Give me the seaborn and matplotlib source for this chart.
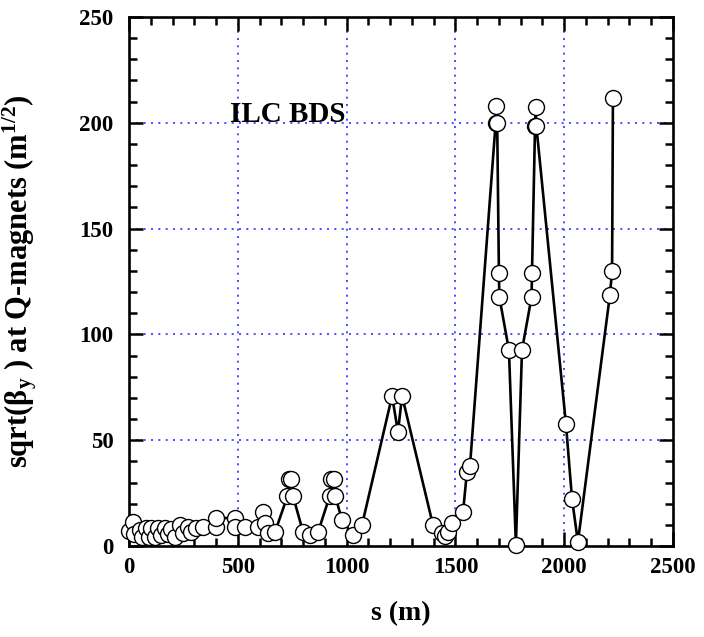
import matplotlib
matplotlib.use("Agg")
import matplotlib.pyplot as plt
import seaborn as sns
import pandas as pd
from matplotlib.ticker import MultipleLocator

s_m = [0, 18, 23, 51, 60, 78, 92, 101, 119, 133, 147, 165, 179, 193, 211,
       234, 248, 271, 285, 308, 340, 400, 400, 487, 487, 533,
       593, 616, 625, 639, 671,
       728, 736, 746, 754,
       800, 832, 869,
       922, 930, 940, 948,
       979, 1029, 1071,
       1209, 1236, 1255,
       1397, 1438, 1452, 1466, 1484, 1535, 1553, 1567,
       1685, 1688, 1692, 1700, 1702, 1746, 1778, 1806, 1850, 1852, 1866, 1869, 1872,
       2008, 2036, 2063, 2210, 2220, 2224]
sqrt_beta_y = [7, 11.3, 5.7, 7.6, 4.3, 8.5, 4.3, 8.5, 4.3, 8.5, 5.2, 8.5, 5.7, 8, 4.3,
               9.9, 6.1, 9, 6.6, 8.5, 9, 9, 13.2, 13.2, 9, 9,
               9, 16, 11, 6, 6.6,
               23.5, 31.7, 31.7, 23.5,
               6.6, 5.2, 6.6,
               23.5, 31.7, 31.7, 23.5,
               12.3, 5.2, 10,
               70.9, 53.9, 70.9,
               9.9, 6, 4.7, 6.6, 10.9, 16, 35, 37.8,
               200, 208, 200, 129, 117.7, 92.6, 0.7, 92.6, 117.7, 129, 198.5, 207.5, 198.5,
               57.7, 22.2, 1.9, 118.6, 130, 211.7]

x_ticks = [0, 500, 1000, 1500, 2000, 2500]
y_ticks = [0, 50, 100, 150, 200, 250]

df = pd.DataFrame({"s": s_m, "v": sqrt_beta_y})

sns.set_theme(style="white")
plt.rcParams["font.family"] = ["Liberation Serif", "DejaVu Serif"]
plt.rcParams["font.weight"] = "bold"
plt.rcParams["text.color"] = "black"
plt.rcParams["axes.labelcolor"] = "black"
plt.rcParams["xtick.color"] = "black"
plt.rcParams["ytick.color"] = "black"
plt.rcParams["mathtext.fontset"] = "custom"
plt.rcParams["mathtext.rm"] = "Liberation Serif:bold"
plt.rcParams["mathtext.bf"] = "Liberation Serif:bold"
plt.rcParams["mathtext.it"] = "Liberation Serif:bold"
plt.rcParams["mathtext.default"] = "bf"

fig = plt.figure(figsize=(7.04, 6.37), dpi=100)
ax = fig.add_axes([129/704, 91/637, 544/704, 529/637])

ax.set_xlim(0, 2500)
ax.set_ylim(0, 250)
ax.set_axisbelow(True)
for xv in x_ticks[1:-1]:
    ax.axvline(xv, color="#2f2fff", lw=1.2, ls=(0, (1.2, 3.2)), zorder=0)
for yv in y_ticks[1:-1]:
    ax.axhline(yv, color="#2f2fff", lw=1.2, ls=(0, (1.2, 3.2)), zorder=0)

sns.lineplot(data=df, x="s", y="v", sort=False, estimator=None, ax=ax,
             color="black", lw=1.9, marker="o", markersize=11.5,
             markerfacecolor="white", markeredgecolor="black", markeredgewidth=1.0,
             clip_on=False, zorder=3)

ax.set_xticks(x_ticks)
ax.set_yticks(y_ticks)
ax.xaxis.set_minor_locator(MultipleLocator(100))
ax.yaxis.set_minor_locator(MultipleLocator(10))
ax.tick_params(which="both", direction="in", top=True, right=True, bottom=True, left=True,
               width=1.8, color="black")
ax.tick_params(which="major", length=10, labelsize=16.5)
ax.tick_params(axis="x", which="major", pad=8)
ax.tick_params(axis="y", which="major", pad=11)
ax.tick_params(which="minor", length=6)
for lab in ax.get_xticklabels() + ax.get_yticklabels():
    lab.set_fontweight("bold")
for sp in ax.spines.values():
    sp.set_linewidth(1.9)
    sp.set_color("black")

ax.set_xlabel("s (m)", fontsize=20, fontweight="bold")
ax.set_ylabel(r"sqrt(β$_\mathbf{y}$ ) at Q-magnets (m$^\mathbf{1/2}$)", fontsize=22,
              fontweight="bold")
ax.xaxis.set_label_coords(0.5, -0.105)
ax.yaxis.set_label_coords(-0.165, 0.5)
ax.text(465, 204, "ILC BDS", fontsize=21, fontweight="bold", ha="left", va="center")

fig.savefig("out.png", dpi=100)
